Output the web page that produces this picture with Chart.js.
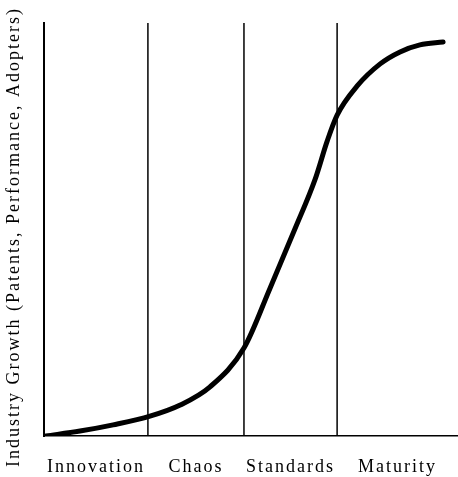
<!DOCTYPE html>
<html>
<head>
<meta charset="utf-8">
<script src="https://cdn.jsdelivr.net/npm/chart.js@4"></script>
<style>
  html, body { margin: 0; padding: 0; background: #fff; }
  #wrap { width: 458px; height: 477px; }
</style>
</head>
<body>
<div id="wrap"><canvas id="growth"></canvas></div>
<script>
// data (x: 0..100 across the stages, y: 0..100 growth)
const curveX = [0.5, 8.7, 16.7, 25.6, 32.9, 40.1, 48.3, 54.6, 60.6, 65.5, 68.4, 70.8, 75.6, 81.2, 86.0, 90.8, 96.4];
const curveY = [0, 1.2, 2.7, 4.8, 7.5, 11.9, 21.3, 35.8, 50.1, 62.2, 71.4, 77.7, 84.7, 90.1, 93.0, 94.7, 95.4];
const stageNames = ['Innovation', 'Chaos', 'Standards', 'Maturity'];
const stageBounds = [0, 25.1, 48.3, 70.8, 100];
const yTitle = 'Industry Growth (Patents, Performance, Adopters)';

// stage label positions = middle of each stage
const stageCenters = [];
for (let i = 0; i < stageNames.length; i++) {
    stageCenters.push((stageBounds[i] + stageBounds[i + 1]) / 2);
}

const fontFamily = '"Liberation Serif", "Times New Roman", serif';
const serif = { family: fontFamily, size: 18 };

// scanned text is spaced out, canvas letterSpacing does that
// the y title sits a bit lower than chart.js would center it, so draw it here
const textBits = {
    id: 'textBits',
    beforeLayout(chart) { chart.ctx.letterSpacing = '2px'; },
    beforeDraw(chart) { chart.ctx.letterSpacing = '2px'; },
    afterDraw(chart) {
        const ctx = chart.ctx;
        ctx.save();
        ctx.letterSpacing = '2px';
        ctx.translate(14, 237);
        ctx.rotate(-Math.PI / 2);
        ctx.font = '18px ' + fontFamily;
        ctx.fillStyle = '#000';
        ctx.textAlign = 'center';
        ctx.textBaseline = 'middle';
        ctx.fillText(yTitle, 0, 0);
        ctx.restore();
    }
};

let sets = [{
    data: curveX.map((x, i) => ({x: x, y: curveY[i]})),
    borderColor: '#000',
    borderWidth: 5,
    borderCapStyle: 'round',
    cubicInterpolationMode: 'monotone',
    pointRadius: 0,
    order: 0
}];
// stage dividers
for (let i = 1; i < stageBounds.length - 1; i++) {
    sets.push({
        data: [{x: stageBounds[i], y: 0}, {x: stageBounds[i], y: 100}],
        borderColor: '#000',
        borderWidth: 1.5,
        pointRadius: 0,
        order: 1
    });
}

new Chart(document.getElementById('growth'), {
    type: 'line',
    data: { datasets: sets },
    options: {
        responsive: true,
        maintainAspectRatio: false,
        animation: false,
        layout: { padding: { top: 23, right: 0, left: 0, bottom: 0 } },
        plugins: { legend: { display: false }, tooltip: { enabled: false } },
        scales: {
            x: {
                type: 'linear',
                min: 0, max: 100,
                grid: { display: false, drawTicks: false },
                border: { color: '#000', width: 1.5 },
                afterBuildTicks: (scale) => { scale.ticks = stageCenters.map(v => ({value: v})); },
                afterFit: (scale) => { scale.height = 41; },
                ticks: {
                    color: '#000',
                    font: serif,
                    padding: 20,
                    maxRotation: 0,
                    autoSkip: false,
                    callback: (v, i) => stageNames[i]
                }
            },
            y: {
                min: 0, max: 100,
                grid: { display: false, drawTicks: false },
                border: { color: '#000', width: 2 },
                ticks: { display: false },
                afterFit: (scale) => { scale.width = 44; }
            }
        }
    },
    plugins: [textBits]
});
</script>
</body>
</html>
